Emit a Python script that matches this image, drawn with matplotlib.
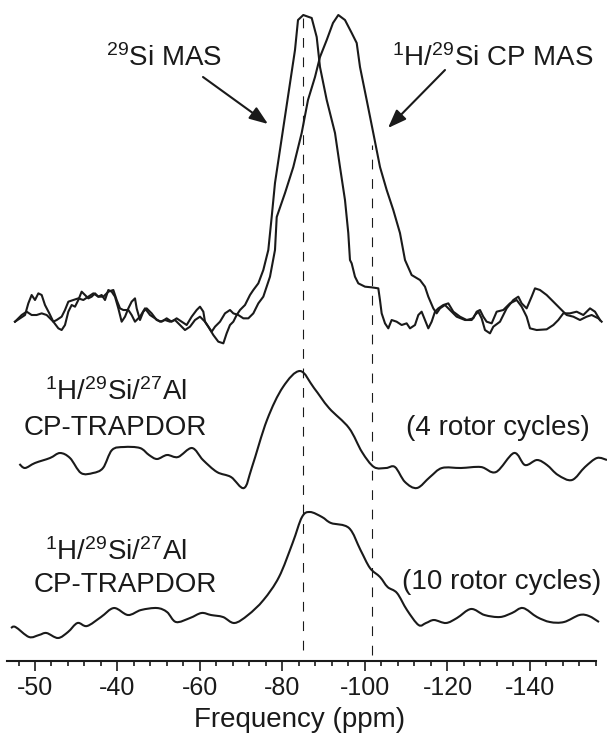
import numpy as np
import matplotlib
matplotlib.use("Agg")
import matplotlib.pyplot as plt
from matplotlib.path import Path
from matplotlib.patches import PathPatch

plt.rcParams["font.family"] = ["Liberation Sans", "DejaVu Sans"]
plt.rcParams["mathtext.fontset"] = "custom"
plt.rcParams["mathtext.rm"] = "Liberation Sans"
plt.rcParams["mathtext.it"] = "Liberation Sans:italic"
plt.rcParams["mathtext.bf"] = "Liberation Sans:bold"
plt.rcParams["mathtext.default"] = "regular"
plt.rcParams["lines.scale_dashes"] = False

# ---------------------------------------------------------------- data
# 29Si MAS spectrum (chemical shift in ppm, intensity in % of maximum)
mas_ppm = [
    -15.15, -16.36, -17.58, -18.38, -19.19, -20.00, -20.81, -21.62, -22.42, -23.47,
    -24.44, -25.66, -26.46, -27.27, -28.08, -28.89, -29.70, -30.50, -31.31, -32.12,
    -32.93, -33.74, -34.55, -35.35, -36.16, -36.97, -37.78, -38.59, -39.39, -40.20,
    -41.01, -41.82, -42.63, -43.43, -44.24, -44.65, -45.45, -46.26, -47.07, -48.28,
    -49.49, -50.71, -51.92, -53.13, -54.34, -55.56, -56.77, -57.98, -59.19, -60.00,
    -60.81, -61.21, -62.02, -63.23, -64.44, -65.66, -66.46, -67.27, -68.08, -68.89,
    -69.70, -70.91, -72.12, -72.93, -74.14, -75.35, -76.56,
    -77.38, -78.18, -79.39, -80.61, -81.82, -83.03, -83.76, -85.04, -87.08, -88.29,
    -89.09, -90.72, -92.73, -93.94, -95.15, -95.95, -96.36,
    -96.77, -97.57, -98.38, -100.00, -101.61, -103.23, -103.63, -104.04, -104.85, -105.65,
    -106.46, -107.67, -108.89, -110.10, -110.91, -112.12, -112.93, -113.73, -114.54, -115.35,
    -116.16, -116.97, -117.78, -118.99, -120.20, -121.41, -123.03, -124.65, -126.26, -127.07,
    -127.88, -128.68, -129.49, -130.71, -131.92, -133.53, -135.15, -136.77, -137.98, -139.19,
    -140.00, -141.61, -144.04, -145.66, -146.87, -148.08, -149.70, -151.31, -152.93, -154.55,
    -155.76, -156.97,
]
mas_int = [
    -0.55, 0.55, 1.64, 5.46, 8.20, 6.56, 8.74, 8.20, 4.92, 2.18,
    -0.55, -2.73, -3.28, -1.64, 2.73, 4.92, 4.37, 6.56, 9.29, 8.20,
    7.10, 7.65, 8.74, 7.65, 8.20, 6.56, 9.84, 9.29, 7.65, 3.82,
    -0.55, 1.09, 3.82, 6.01, 7.10, 3.82, 0.00, 2.73, 3.82, 2.18,
    0.00, -0.55, 0.55, -0.55, 0.55, -0.55, -1.64, 1.09, 3.28, 4.37,
    2.73, -0.55, -2.19, -4.92, -7.10, -7.65, -4.37, -1.64, -0.55, 1.64,
    3.28, 4.92, 8.20, 9.84, 12.02, 16.39, 22.95,
    33.77, 44.92, 55.74, 66.56, 77.70, 88.52, 98.36, 100.00, 99.02, 92.79,
    82.95, 72.13, 61.31, 50.16, 39.34, 28.52, 19.67,
    18.58, 14.21, 12.02, 10.93, 10.71, 10.38, 6.56, 2.19, -1.09, -2.73,
    0.00, -0.55, -1.64, -1.09, -2.73, -1.64, 1.64, 2.73, 0.00, -2.73,
    -0.55, 2.73, 3.82, 4.92, 5.46, 2.73, 1.09, 0.00, 0.55, 2.73,
    3.28, 1.09, -0.55, -1.09, 2.73, 3.28, 5.46, 6.56, 4.37, 1.09,
    -2.73, -3.28, -3.06, -1.64, 0.00, 2.19, 2.19, 2.73, 1.64, 3.82,
    2.73, 0.00,
]

# 1H/29Si CP MAS spectrum
cp_ppm = [
    -15.15, -16.77, -17.98, -19.19, -20.40, -21.62, -22.83, -23.64, -24.44, -25.25,
    -26.46, -27.27, -28.08, -29.29, -30.50, -31.72, -32.93, -34.14, -35.35, -36.57,
    -37.78, -38.99, -39.80, -40.61, -41.41, -42.63, -43.43, -44.24, -45.45, -46.67,
    -47.88, -49.09, -50.30, -51.52, -52.73, -53.94, -55.15, -56.36, -57.58, -58.79,
    -60.00, -61.21, -62.02, -62.83, -63.64, -64.85, -66.06, -67.27, -68.08, -69.29,
    -70.51, -71.72, -72.93, -74.14, -75.35, -76.16, -76.97, -78.18,
    -78.60, -80.61, -82.62, -84.65, -86.18, -87.88, -89.09, -90.72, -92.24, -93.53,
    -95.15, -96.78, -97.99, -98.79, -100.41, -102.01, -103.64, -105.26, -106.86, -108.48,
    -109.70,
    -111.31, -113.33, -114.54, -115.35, -116.56, -117.37, -118.18, -119.39, -120.60, -122.22,
    -124.24, -125.86, -126.67, -127.47, -128.28, -129.09, -130.30, -131.11, -132.73, -134.34,
    -135.96, -137.17, -137.98, -139.19, -140.40, -141.21, -142.42, -144.04, -145.66, -147.27,
    -148.89, -150.51, -152.12, -153.74, -154.95, -156.57, -157.37,
]
cp_int = [
    -0.55, 1.64, 2.73, 1.64, 1.64, 2.18, 1.64, 0.55, -0.55, 0.00,
    1.09, 3.28, 6.01, 6.56, 7.10, 6.56, 7.65, 8.74, 7.65, 7.65,
    9.29, 9.84, 6.56, 3.82, 3.28, 3.28, 1.64, -0.55, 1.09, 3.82,
    1.64, 0.55, -0.55, 0.00, -0.55, 0.00, -1.64, -3.28, -2.19, 0.00,
    1.09, -0.55, -2.19, -3.83, -2.19, -0.55, 2.18, 3.28, 2.18, 1.64,
    0.55, 0.55, 2.18, 5.46, 7.65, 10.93, 14.21, 22.95,
    33.77, 41.64, 50.16, 61.31, 72.13, 79.67, 86.23, 91.80, 97.38, 100.00,
    98.36, 94.10, 90.82, 82.95, 72.13, 61.31, 50.16, 42.62, 36.07, 28.52,
    19.67,
    14.75, 13.11, 10.93, 7.65, 3.82, 2.19, 3.82, 4.92, 3.28, 1.09,
    0.00, 0.00, 1.64, 2.73, 0.55, -3.28, -4.37, -2.19, -0.55, 3.82,
    6.56, 7.65, 5.46, 3.82, 7.65, 10.38, 9.84, 8.20, 6.01, 3.82,
    1.64, 1.09, 0.00, 1.09, 1.64, 0.55, -0.55,
]

# 1H/29Si/27Al CP-TRAPDOR difference, 4 rotor cycles
trap4_ppm = [
    -16.22, -17.58, -20.00, -23.64, -26.06, -28.48, -31.15, -34.06, -36.49, -38.67,
    -41.58, -45.45, -47.64, -49.58, -52.00, -54.67, -58.06, -60.73, -64.12, -67.51,
    -70.67, -72.61, -76.24, -80.12, -84.24, -87.64, -91.27, -96.12, -99.27, -102.18,
    -105.09, -107.27, -109.70, -112.61, -115.76, -118.67, -123.27, -128.12, -131.76, -136.12,
    -138.79, -141.70, -144.12, -146.79, -150.18, -153.33, -156.24, -158.67,
]
trap4_int = [
    0.33, -0.98, 0.66, 2.30, 3.93, 2.30, -2.62, -2.62, -0.98, 4.92,
    5.90, 5.57, 3.28, 1.97, 3.28, 2.62, 5.57, 1.64, -2.30, -3.93,
    -7.54, -0.66, 14.75, 25.57, 30.82, 25.25, 18.69, 12.13, 4.26, -0.66,
    -0.98, -0.66, -5.57, -7.54, -3.93, -0.98, -0.98, -0.66, -2.30, 3.93,
    0.00, 1.64, 0.00, -3.28, -4.92, -0.66, 2.30, 1.64,
]

# 1H/29Si/27Al CP-TRAPDOR difference, 10 rotor cycles
trap10_ppm = [
    -14.18, -15.27, -18.55, -20.97, -22.79, -25.58, -28.00, -30.30, -32.61, -36.00,
    -39.15, -42.55, -45.70, -49.58, -52.00, -54.18, -57.58, -60.36, -62.67, -65.58,
    -68.36, -71.64, -75.39, -79.15, -82.45, -84.73, -86.67, -89.58, -91.76, -96.12,
    -98.91, -101.21, -103.64, -105.48, -107.76, -110.18, -112.99, -114.79, -116.73, -119.64,
    -122.30, -125.70, -128.97, -132.73, -135.64, -138.30, -141.70, -144.85, -148.24, -152.00,
    -154.30, -156.73,
]
trap10_int = [
    -2.62, -2.30, -5.57, -4.92, -4.26, -5.90, -3.93, -0.98, -1.97, 0.98,
    3.93, 1.64, 3.28, 3.93, 2.62, -0.66, 0.66, 2.30, 1.64, 0.98,
    -0.98, 1.64, 6.56, 14.10, 25.25, 33.77, 35.41, 33.77, 31.80, 30.16,
    22.95, 17.05, 14.10, 10.82, 8.85, 3.28, -1.64, -0.98, 0.00, -0.98,
    0.66, 3.61, 1.64, 0.98, 2.30, 3.93, 0.98, -0.66, -0.66, 1.64,
    1.31, -0.66,
]

# reference shifts marked by dashed lines (ppm)
marker_ppm = [-85.0, -101.6]

# axis ticks
major_ticks = [-20, -40, -60, -80, -100, -120, -140]
major_labels = ["-50", "-40", "-60", "-80", "-100", "-120", "-140"]
minor_ticks = list(range(-16, -157, -4))

# ---------------------------------------------------------------- layout
W, H = 607, 739
INK = "#1a1a1a"
OFF_TOP, OFF_MID, OFF_BOT = 0.0, -47.54, -98.36


def fxy(x, y):
    """Figure-fraction coordinates from pixel position (origin top-left)."""
    return x / W, 1 - y / H


def smooth_path(x, y):
    """Cubic Bezier path running through every (x, y) point."""
    pts = np.column_stack([x, y]).astype(float)
    n = len(pts)
    verts, codes = [pts[0]], [Path.MOVETO]
    for i in range(n - 1):
        p0 = pts[max(i - 1, 0)]
        p1 = pts[i]
        p2 = pts[i + 1]
        p3 = pts[min(i + 2, n - 1)]
        verts += [p1 + (p2 - p0) / 6.0, p2 - (p3 - p1) / 6.0, p2]
        codes += [Path.CURVE4] * 3
    return Path(verts, codes)


fig = plt.figure(figsize=(W / 100, H / 100), dpi=100)
ax = fig.add_axes([0, (H - 660.7) / H, 1, 660.7 / H])
ax.set_xlim(-11.515, -158.67)
ax.set_ylim(-111.7, 104.92)

# top: two overlaid spectra
ax.plot(mas_ppm, np.array(mas_int) + OFF_TOP, color=INK, lw=1.5,
        solid_joinstyle="round", clip_on=False)
ax.plot(cp_ppm, np.array(cp_int) + OFF_TOP, color=INK, lw=1.5,
        solid_joinstyle="round", clip_on=False)

# TRAPDOR traces
for xs, ys, off in [(trap4_ppm, trap4_int, OFF_MID), (trap10_ppm, trap10_int, OFF_BOT)]:
    p = smooth_path(xs, np.array(ys) + off)
    ax.add_patch(PathPatch(p, fill=False, ec=INK, lw=1.5, joinstyle="round",
                           clip_on=False))

# dashed guide lines
ax.vlines(marker_ppm[0], -108.2, 99.0, colors=INK, lw=0.8, linestyles=(0, (7, 7)))
ax.vlines(marker_ppm[1], -109.8, 57.4, colors=INK, lw=0.8, linestyles=(0, (7, 7)))

# axis styling
for s in ("left", "right", "top"):
    ax.spines[s].set_visible(False)
ax.spines["bottom"].set_linewidth(1.5)
ax.spines["bottom"].set_color(INK)
ax.spines["bottom"].set_bounds(-13.28, -156.0)
ax.set_yticks([])
ax.set_xticks(major_ticks)
ax.set_xticklabels(major_labels)
ax.set_xticks(minor_ticks, minor=True)
ax.tick_params(axis="x", which="major", direction="out", length=7.2, width=1.2,
               color=INK, labelsize=18, labelcolor=INK, pad=4)
ax.tick_params(axis="x", which="minor", direction="out", length=3.6, width=1.2,
               color=INK)
ax.patch.set_visible(False)

# labels
txt = dict(fontsize=20, color=INK, ha="center", va="baseline")
fig.text(*fxy(300, 727), "Frequency (ppm)", **txt)
fig.text(*fxy(163.5, 66), r"$^{29}$Si MAS", **txt)
fig.text(*fxy(493, 66), r"$^{1}$H/$^{29}$Si CP MAS", **txt)
fig.text(*fxy(116, 400), r"$^{1}$H/$^{29}$Si/$^{27}$Al", **txt)
fig.text(*fxy(115, 435), "CP-TRAPDOR", **txt)
fig.text(*fxy(498, 435), "(4 rotor cycles)", **txt)
fig.text(*fxy(116, 560), r"$^{1}$H/$^{29}$Si/$^{27}$Al", **txt)
fig.text(*fxy(125, 592), "CP-TRAPDOR", **txt)
fig.text(*fxy(502, 589), "(10 rotor cycles)", **txt)

arrow = dict(arrowstyle="-|>,head_length=0.8,head_width=0.3", lw=1.5, color=INK,
             shrinkA=0, shrinkB=0, mutation_scale=14)
fig.add_artist(matplotlib.patches.FancyArrowPatch(
    fxy(203, 77), fxy(268, 124), transform=fig.transFigure, **arrow))
fig.add_artist(matplotlib.patches.FancyArrowPatch(
    fxy(445, 70), fxy(388, 128), transform=fig.transFigure, **arrow))

fig.savefig("out.png", dpi=100, facecolor="white")
